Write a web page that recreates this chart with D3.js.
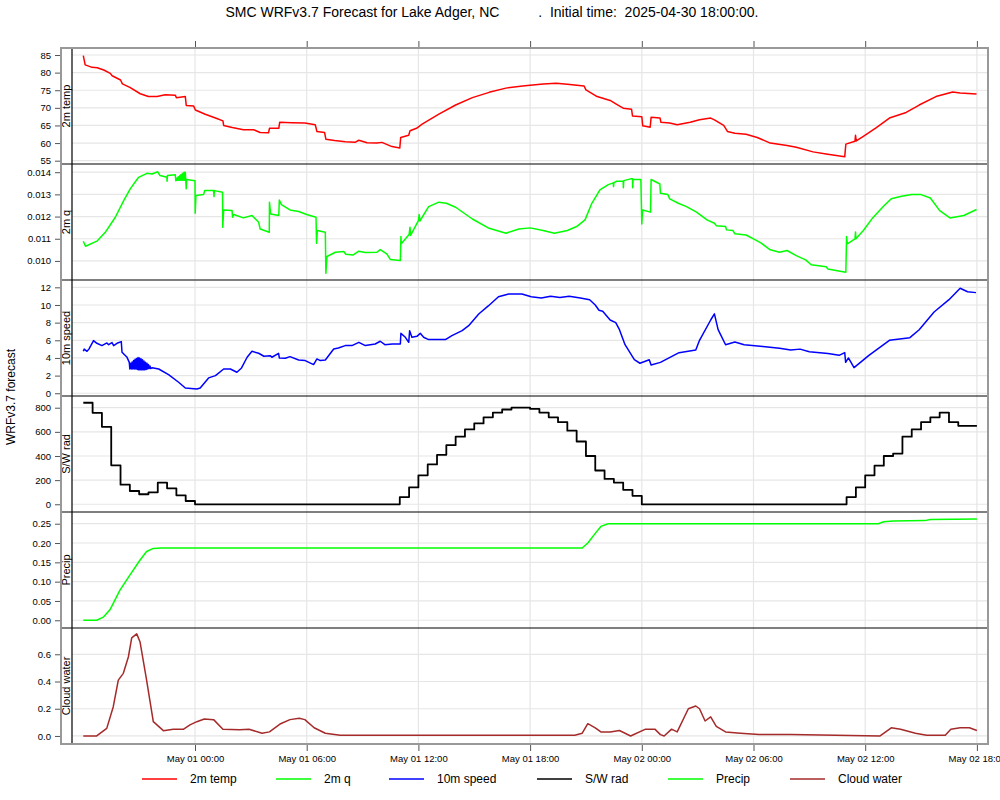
<!DOCTYPE html>
<html><head><meta charset="utf-8">
<script src="https://cdn.jsdelivr.net/npm/d3@7"></script>
<style>
body{margin:0;background:#fff;}
text{font-family:"Liberation Sans",Arial,Helvetica,sans-serif;fill:#000;}
</style>
</head><body><svg id="c" width="1000" height="800"></svg>
<script>
// ---------------- DATA ----------------
const initTime = Date.UTC(2025, 3, 30, 18, 0, 0);
const endHours = 48;
const xTickHours = [6, 12, 18, 24, 30, 36, 42, 48];
const seriesNames = ["2m temp", "2m q", "10m speed", "S/W rad", "Precip", "Cloud water"];
const seriesColors = ["#ff0000", "#00ff00", "#0000ff", "#000000", "#00ff00", "#a52a2a"];

const tempTicks = [55, 60, 65, 70, 75, 80, 85];
const qTicks = [0.010, 0.011, 0.012, 0.013, 0.014];
const speedTicks = [0, 2, 4, 6, 8, 10, 12];
const swTicks = [0, 200, 400, 600, 800];
const precipTicks = [0, 0.05, 0.10, 0.15, 0.20, 0.25];
const cloudTicks = [0, 0.2, 0.4, 0.6];

// [hours since init, value]
const temp2m = [[0,84.8],[0.1,82.2],[0.47,81.5],[0.75,81.4],[1.1,80.75],[1.45,79.8],[1.55,79.1],[2.0,77.9],[2.1,76.8],[2.5,75.8],[3.06,74.0],[3.5,73.2],[3.96,73.2],[4.4,73.7],[4.94,73.6],[5.0,72.9],[5.48,73.2],[5.53,70.7],[5.93,70.5],[6.02,69.4],[6.55,68.2],[7.1,67.1],[7.5,66.3],[7.54,65.0],[8.0,64.4],[8.6,63.8],[9.15,63.8],[9.5,63.0],[9.95,62.9],[10.0,64.2],[10.5,64.2],[10.55,65.9],[11.2,65.8],[11.9,65.7],[12.46,65.2],[12.55,63.3],[12.96,63.0],[13.03,61.1],[13.5,60.7],[14.07,60.4],[14.6,60.2],[14.8,60.8],[15.24,60.1],[15.77,60.0],[16.04,60.2],[16.58,59.0],[17.0,58.6],[17.05,61.6],[17.48,62.2],[17.55,63.5],[17.9,64.2],[18.2,65.4],[19.1,68.2],[20.0,70.8],[20.9,72.9],[21.8,74.4],[22.7,75.6],[23.6,76.2],[24.0,76.4],[24.7,76.8],[25.4,77.0],[26.0,76.7],[26.9,76.2],[27.0,75.1],[27.6,73.2],[28.3,72.1],[28.65,71.0],[29.0,69.9],[29.45,69.6],[29.5,67.7],[30.0,67.5],[30.05,64.9],[30.45,64.5],[30.5,67.3],[30.98,67.1],[31.03,65.9],[31.5,65.7],[31.9,65.2],[32.6,65.9],[33.1,66.6],[33.7,67.1],[33.9,66.6],[34.4,65.0],[34.6,63.3],[35.0,62.8],[35.6,62.5],[36.2,61.6],[36.9,60.0],[37.8,59.3],[38.3,58.8],[39.2,57.5],[39.9,56.9],[40.9,56.1],[40.96,59.7],[41.45,60.5],[41.48,62.2],[41.52,60.6],[41.9,61.9],[42.6,64.4],[43.3,67.1],[44.2,68.7],[44.9,70.8],[45.8,73.2],[46.7,74.5],[47.1,74.2],[47.98,73.9]];

const q2m = [[0,0.01089],[0.12,0.01066],[0.73,0.01089],[1.18,0.01129],[1.72,0.01197],[2.17,0.01272],[2.52,0.01325],[2.97,0.01377],[3.42,0.01395],[3.69,0.01392],[4.0,0.01402],[4.12,0.01385],[4.49,0.01377],[4.5,0.01359],[4.52,0.01385],[4.94,0.01389],[4.97,0.01362],[5.0,0.01372],
[5.03,0.01364],[5.06,0.01376],[5.09,0.01364],[5.12,0.01380],[5.15,0.01364],[5.18,0.01384],[5.21,0.01364],[5.24,0.01388],[5.27,0.01364],[5.30,0.01392],[5.33,0.01364],[5.36,0.01396],[5.39,0.01364],[5.42,0.01400],[5.45,0.01364],[5.48,0.01400],
[5.5,0.01367],[5.53,0.01325],[5.55,0.01367],[6.0,0.01362],[6.01,0.01215],[6.05,0.01295],[6.46,0.01299],[6.52,0.01317],[7.0,0.01317],[7.02,0.01290],[7.04,0.01317],[7.48,0.01310],[7.49,0.01152],[7.54,0.01230],[7.99,0.01227],[8.02,0.01197],[8.08,0.01209],[8.6,0.01194],[9.06,0.01205],[9.42,0.01174],[9.5,0.01144],[9.99,0.01129],[10.0,0.01265],[10.06,0.01212],[10.5,0.01205],[10.53,0.01275],[10.64,0.01254],[11.1,0.01230],[11.57,0.01223],[12.0,0.01209],[12.5,0.01197],[12.53,0.01080],[12.57,0.01137],[13.0,0.01129],[13.03,0.00944],[13.09,0.01020],[13.54,0.01039],[14.0,0.01042],[14.1,0.01030],[14.5,0.01027],[14.8,0.01044],[15.15,0.01038],[15.77,0.01039],[15.95,0.01051],[16.3,0.01032],[16.5,0.01006],[17.03,0.01002],[17.06,0.01110],[17.08,0.01077],[17.5,0.01119],[17.55,0.01152],[17.58,0.01115],[18.0,0.01182],[18.04,0.01209],[18.08,0.01180],[18.55,0.01245],[19.1,0.01265],[19.5,0.01260],[20.0,0.01242],[20.9,0.01189],[21.8,0.01147],[22.7,0.01125],[23.4,0.01144],[24.0,0.01149],[24.7,0.01137],[25.3,0.01125],[26.0,0.01137],[26.5,0.01155],[26.95,0.01185],[27.3,0.01257],[27.75,0.01320],[28.2,0.01344],[28.47,0.01352],[28.48,0.01335],[28.5,0.01353],[28.65,0.01359],[29.0,0.01360],[29.01,0.01330],[29.03,0.01362],[29.4,0.01370],[29.5,0.01370],[29.51,0.01330],[29.53,0.01368],[29.95,0.01367],[30.0,0.01167],[30.04,0.01230],[30.47,0.01220],[30.5,0.01367],[30.97,0.01347],[31.0,0.01305],[31.4,0.01299],[31.5,0.01280],[31.96,0.01260],[32.4,0.01245],[32.94,0.01220],[33.5,0.01185],[33.9,0.01170],[34.0,0.01159],[34.5,0.01155],[34.55,0.01140],[34.9,0.01137],[35.0,0.01122],[35.6,0.01117],[36.1,0.01095],[36.4,0.01081],[36.9,0.01050],[37.4,0.01039],[37.8,0.01047],[38.3,0.01024],[38.8,0.01005],[39.1,0.00983],[39.9,0.00974],[40.0,0.00964],[40.5,0.00956],[40.96,0.00949],[41.0,0.01110],[41.04,0.01077],[41.45,0.01099],[41.48,0.01130],[41.5,0.01100],[41.9,0.01137],[42.4,0.01194],[42.97,0.01245],[43.4,0.01280],[43.95,0.01292],[44.5,0.01299],[45.0,0.01299],[45.5,0.01284],[46.0,0.01227],[46.55,0.01194],[47.3,0.01205],[47.98,0.01232]];

const speed10m = [[0,4.75],[0.05,5.0],[0.2,4.75],[0.3,5.0],[0.55,5.96],[0.73,5.66],[1.0,5.4],[1.27,5.7],[1.36,5.5],[1.54,5.75],[1.63,5.4],[1.81,5.66],[2.04,5.85],[2.08,4.64],[2.35,4.07],[2.47,3.5],
[2.50,2.75],[2.54,3.4],[2.58,2.75],[2.62,3.55],[2.66,2.75],[2.70,3.7],[2.74,2.75],[2.78,3.85],[2.82,2.75],[2.86,3.95],[2.90,2.7],[2.94,4.05],[2.98,2.65],[3.02,4.0],[3.06,2.65],[3.10,3.9],[3.14,2.65],[3.18,3.8],[3.22,2.65],[3.26,3.65],[3.30,2.65],[3.34,3.5],[3.38,2.7],[3.42,3.4],[3.46,2.75],[3.50,3.25],[3.54,2.8],[3.58,3.1],[3.62,2.8],
[3.7,2.9],[4.05,2.75],[4.58,2.11],[5.12,1.25],[5.48,0.6],[6.1,0.49],[6.28,0.6],[6.73,1.74],[7.1,2.0],[7.54,2.75],[7.9,2.75],[8.25,2.38],[8.5,2.87],[8.8,4.08],[9.06,4.75],[9.42,4.53],[9.7,4.19],[10.04,4.26],[10.13,4.08],[10.49,4.53],[10.53,4.0],[10.85,3.96],[11.1,4.15],[11.57,3.77],[11.92,3.7],[12.37,3.25],[12.55,3.89],[12.73,3.7],[13.0,3.77],[13.45,5.02],[13.7,5.13],[14.07,5.4],[14.43,5.4],[14.8,5.77],[15.15,5.4],[15.68,5.58],[15.95,5.89],[16.2,5.5],[16.6,5.58],[17.03,5.58],[17.06,6.79],[17.3,6.34],[17.48,5.77],[17.53,7.09],[17.65,6.34],[17.92,6.45],[18.1,6.79],[18.28,6.34],[18.55,6.08],[19.45,6.08],[19.8,6.53],[20.35,7.09],[20.7,7.66],[21.24,8.98],[21.77,9.92],[22.3,10.94],[22.85,11.25],[23.56,11.25],[24.06,10.94],[24.6,10.8],[25.1,11.0],[25.6,10.85],[26.1,11.0],[26.7,10.8],[27.2,10.6],[27.5,10.0],[27.7,9.4],[27.9,9.3],[28.3,8.3],[28.6,8.0],[28.8,7.2],[29.1,5.5],[29.6,3.8],[29.9,3.4],[30.4,3.8],[30.5,3.2],[31.0,3.5],[32.0,4.6],[32.9,4.9],[33.1,6.0],[33.7,8.3],[33.9,9.0],[34.1,7.2],[34.5,5.5],[35.0,5.8],[35.5,5.5],[36.5,5.3],[37.4,5.1],[38.0,4.9],[38.5,5.0],[39.0,4.7],[40.0,4.5],[40.6,4.3],[40.9,4.6],[40.95,3.5],[41.1,4.0],[41.4,2.9],[42.2,4.3],[43.3,6.0],[44.4,6.3],[44.9,7.2],[45.7,9.2],[46.5,10.6],[47.1,11.9],[47.5,11.5],[47.95,11.4]];

// half-hourly shortwave radiation, starting at hour 0
const swRad = [841,758,642,323,162,110,83,99,179,132,74,27,
0,0,0,0,0,0,0,0,0,0,0,0,0,0,0,0,0,0,0,0,0,0,
60,140,240,330,410,490,560,620,670,720,760,785,800,800,790,760,720,680,610,520,400,280,210,180,120,70,
0,0,0,0,0,0,0,0,0,0,0,0,0,0,0,0,0,0,0,0,0,0,
60,140,240,320,400,420,560,620,680,720,760,680,650,650];

const precip = [[0,0],[0.72,0],[1.07,0.008],[1.43,0.027],[1.97,0.078],[2.5,0.117],[3.05,0.156],[3.4,0.178],[3.76,0.186],[4.2,0.187],[26.8,0.187],[27.1,0.2],[27.5,0.225],[27.8,0.243],[28.2,0.25],[42.7,0.25],[43.0,0.255],[43.5,0.257],[45.2,0.258],[45.5,0.261],[48,0.262]];

const cloudWater = [[0,0],[0.72,0],[1.26,0.056],[1.61,0.215],[1.88,0.41],[2.15,0.46],[2.42,0.58],[2.6,0.72],[2.87,0.75],[3.05,0.69],[3.4,0.41],[3.76,0.105],[4.3,0.039],[4.83,0.049],[5.37,0.049],[5.73,0.081],[6.1,0.105],[6.5,0.125],[7.0,0.12],[7.5,0.05],[8.4,0.045],[8.9,0.05],[9.6,0.02],[10.0,0.03],[10.6,0.09],[11.1,0.12],[11.6,0.13],[11.9,0.12],[12.4,0.06],[13.0,0.02],[13.8,0.005],[26.4,0.005],[26.8,0.02],[27.1,0.09],[27.5,0.06],[27.8,0.03],[28.3,0.03],[28.8,0.04],[29.4,0.0],[30.2,0.05],[30.7,0.05],[31.0,0.01],[31.2,0.0],[31.6,0.05],[31.9,0.03],[32.5,0.2],[32.9,0.22],[33.1,0.2],[33.4,0.11],[33.7,0.14],[34.0,0.07],[34.5,0.03],[35.3,0.02],[36.3,0.01],[38.0,0.01],[42.8,0.0],[43.4,0.06],[43.9,0.05],[44.7,0.02],[45.3,0.005],[46.3,0.005],[46.6,0.05],[47.1,0.06],[47.6,0.06],[48,0.04]];

// ---------------- LAYOUT ----------------
const svg = d3.select("#c");
const outer = {left: 61, right: 988, top: 48, bottom: 744};
const innerLeft = 72;
const panelH = (outer.bottom - outer.top) / 6;

const hToDate = h => new Date(initTime + h * 3600e3);
const x = d3.scaleUtc().domain([hToDate(0), hToDate(endHours)]).range([83.3, 976.9]);

const panels = [
  {name: seriesNames[0], color: seriesColors[0], data: temp2m, domain: [54.06, 86.99], ticks: tempTicks, fmt: d3.format("d")},
  {name: seriesNames[1], color: seriesColors[1], data: q2m, domain: [0.00914, 0.01437], ticks: qTicks, fmt: d3.format(".3f")},
  {name: seriesNames[2], color: seriesColors[2], data: speed10m, domain: [-0.31, 12.83], ticks: speedTicks, fmt: d3.format("d")},
  {name: seriesNames[3], color: seriesColors[3], data: swRad.map((v, i) => [i * 0.5, v]).concat([[endHours, swRad[swRad.length - 1]]]), domain: [-64, 897], ticks: swTicks, fmt: d3.format("d"), step: true},
  {name: seriesNames[4], color: seriesColors[4], data: precip, domain: [-0.02, 0.2803], ticks: precipTicks, fmt: d3.format(".2f")},
  {name: seriesNames[5], color: seriesColors[5], data: cloudWater, domain: [-0.059, 0.793], ticks: cloudTicks, fmt: d3.format(".1f")}
];

const xTicks = xTickHours.map(hToDate);
const gridColor = "#e6e6e6";

// vertical grid
svg.append("g").selectAll("line").data(xTicks).join("line")
  .attr("x1", d => x(d)).attr("x2", d => x(d))
  .attr("y1", outer.top).attr("y2", outer.bottom)
  .attr("stroke", gridColor).attr("stroke-width", 1.2);

const defs = svg.append("defs");

panels.forEach((p, i) => {
  const top = outer.top + i * panelH, bot = top + panelH;
  const y = d3.scaleLinear().domain(p.domain).range([bot, top]);
  // horizontal grid
  svg.append("g").selectAll("line").data(p.ticks).join("line")
    .attr("x1", innerLeft).attr("x2", outer.right)
    .attr("y1", d => y(d)).attr("y2", d => y(d))
    .attr("stroke", gridColor).attr("stroke-width", 1.2);
  // clip
  defs.append("clipPath").attr("id", "clip" + i).append("rect")
    .attr("x", innerLeft).attr("y", top).attr("width", outer.right - innerLeft).attr("height", panelH);
  const line = d3.line().x(d => x(hToDate(d[0]))).y(d => y(d[1]))
    .curve(p.step ? d3.curveStepAfter : d3.curveLinear);
  svg.append("path").datum(p.data)
    .attr("clip-path", `url(#clip${i})`)
    .attr("d", line).attr("fill", "none")
    .attr("stroke", p.color).attr("stroke-width", p.step ? 1.8 : 1.5)
    .attr("stroke-linejoin", "round");
  // y axis
  const ax = svg.append("g").attr("transform", `translate(${outer.left},0)`)
    .call(d3.axisLeft(y).tickValues(p.ticks).tickFormat(p.fmt).tickSize(6).tickPadding(4));
  ax.select(".domain").remove();
  ax.selectAll(".tick line").attr("stroke", "#555");
  ax.selectAll(".tick text").attr("font-size", "9.5px").attr("fill", "#000")
    .style("font-family", '"Liberation Sans",Arial,sans-serif');
  // panel label
  svg.append("text")
    .attr("transform", `translate(70,${(top + bot) / 2}) rotate(-90)`)
    .attr("text-anchor", "middle").attr("font-size", "11px").text(p.name);
  // separator
  if (i > 0) {
    svg.append("line").attr("x1", outer.left).attr("x2", outer.right)
      .attr("y1", top).attr("y2", top).attr("stroke", "#000").attr("stroke-width", 1.2);
  }
});

// inner left line
svg.append("line").attr("x1", innerLeft).attr("x2", innerLeft)
  .attr("y1", outer.top).attr("y2", outer.bottom).attr("stroke", "#000").attr("stroke-width", 1.2);

// outer box
svg.append("rect").attr("x", outer.left).attr("y", outer.top)
  .attr("width", outer.right - outer.left).attr("height", outer.bottom - outer.top)
  .attr("fill", "none").attr("stroke", "#999").attr("stroke-width", 2);

// bottom axis
const bx = svg.append("g").attr("transform", `translate(0,${outer.bottom + 1})`)
  .call(d3.axisBottom(x).tickValues(xTicks).tickFormat(d3.utcFormat("%b %d %H:%M")).tickSize(6).tickPadding(4));
bx.select(".domain").remove();
bx.selectAll(".tick line").attr("stroke", "#555");
bx.selectAll(".tick text").attr("font-size", "9.5px").attr("fill", "#000")
  .style("font-family", '"Liberation Sans",Arial,sans-serif');

// top ticks
const tx = svg.append("g").attr("transform", `translate(0,${outer.top - 1})`)
  .call(d3.axisTop(x).tickValues(xTicks).tickFormat("").tickSize(6));
tx.select(".domain").remove();
tx.selectAll(".tick line").attr("stroke", "#555");

// title
svg.append("text").attr("x", 492).attr("y", 17).attr("text-anchor", "middle")
  .attr("font-size", "14px").style("white-space", "pre")
  .text("SMC WRFv3.7 Forecast for Lake Adger, NC          .  Initial time:  2025-04-30 18:00:00.");

// y title
svg.append("text").attr("transform", "translate(15,397) rotate(-90)")
  .attr("text-anchor", "middle").attr("font-size", "12px").text("WRFv3.7 forecast");

// legend
const legendX = [142, 276, 389, 537, 668, 790];
const lg = svg.append("g").selectAll("g").data(seriesNames).join("g")
  .attr("transform", (d, i) => `translate(${legendX[i]},779)`);
lg.append("line").attr("x1", 0).attr("x2", 35).attr("y1", 0).attr("y2", 0)
  .attr("stroke", (d, i) => seriesColors[i]).attr("stroke-width", 1.5);
lg.append("text").attr("x", 48).attr("y", 4).attr("font-size", "12px").text(d => d);
</script>
</body></html>
